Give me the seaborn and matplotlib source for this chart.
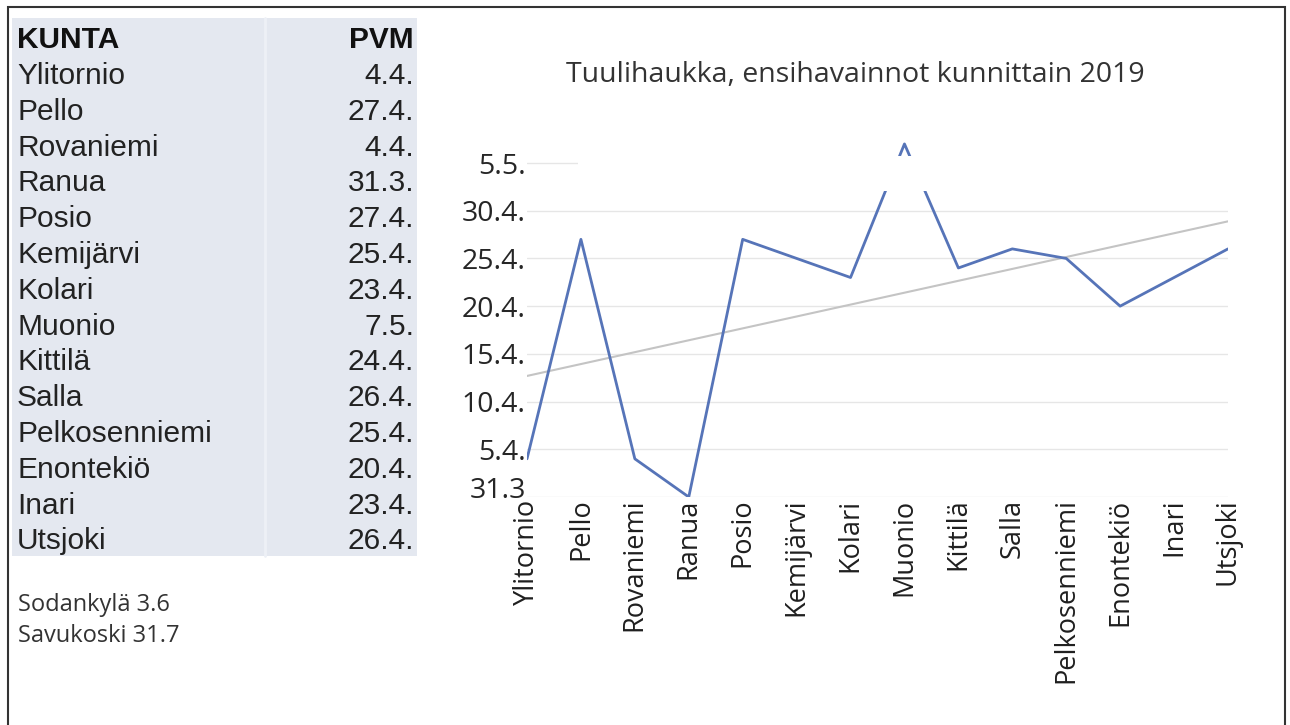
import numpy as np
import pandas as pd
import seaborn as sns
import matplotlib.pyplot as plt
import matplotlib.transforms as mtransforms
from matplotlib.patches import Rectangle

kunnat = ["Ylitornio", "Pello", "Rovaniemi", "Ranua", "Posio", "Kemijärvi", "Kolari",
          "Muonio", "Kittilä", "Salla", "Pelkosenniemi", "Enontekiö", "Inari", "Utsjoki"]
pvm = ["4.4.", "27.4.", "4.4.", "31.3.", "27.4.", "25.4.", "23.4.",
       "7.5.", "24.4.", "26.4.", "25.4.", "20.4.", "23.4.", "26.4."]
lisat = ["Sodankylä 3.6", "Savukoski 31.7"]
ytick_labels = ["31.3", "5.4.", "10.4.", "15.4.", "20.4.", "25.4.", "30.4.", "5.5."]
otsikko = "Tuulihaukka, ensihavainnot kunnittain 2019"

# päivät 31.3. jälkeen
alku = pd.Timestamp(2019, 3, 31)
paivat = [(pd.Timestamp(2019, int(p.split(".")[1]), int(p.split(".")[0])) - alku).days for p in pvm]
df = pd.DataFrame({"pos": np.arange(len(kunnat)), "kunta": kunnat, "paiva": paivat})

sns.set_theme(style="white")
plt.rcParams["font.family"] = ["Open Sans", "DejaVu Sans"]

W, H = 1290, 725
fig = plt.figure(figsize=(W / 100, H / 100), dpi=100)


def fx(px):
    return px / W


def fy(py):
    return 1 - py / H


# kehys
fig.add_artist(Rectangle((fx(8), -0.02), fx(1285 - 8), fy(7) + 0.02, transform=fig.transFigure,
                         fill=False, edgecolor="#333333", lw=1.5))

# taulukko
fig.add_artist(Rectangle((fx(12), fy(556)), fx(417 - 12), (556 - 18) / H, transform=fig.transFigure,
                         facecolor="#e4e8f0", edgecolor="none"))
fig.add_artist(plt.Line2D([fx(265), fx(265)], [fy(556), fy(18)], transform=fig.transFigure,
                          color="#edf0f6", lw=2))
tfont = dict(family="Liberation Sans", fontsize=21.5, va="center")
fig.text(fx(17), fy(40), "KUNTA", fontweight="bold", color="#111111", ha="left", **tfont)
fig.text(fx(414), fy(40), "PVM", fontweight="bold", color="#111111", ha="right", **tfont)
for i, (k, p) in enumerate(zip(kunnat, pvm)):
    y = 76 + i * 35.8
    fig.text(fx(17), fy(y), k, color="#222222", ha="left", **tfont)
    fig.text(fx(414), fy(y), p, color="#222222", ha="right", **tfont)

for i, t in enumerate(lisat):
    fig.text(fx(18), fy(605 + i * 31), t, fontsize=17, color="#333333", va="center", ha="left")

# kaavio
x0, x1 = 527, 1228
ybot = 497
px_per_day = (497 - 163) / 35
ax = fig.add_axes([fx(x0), 1 - ybot / H, (x1 - x0) / W, 40 * px_per_day / H])

sns.lineplot(data=df, x="pos", y="paiva", ax=ax, color="#5674b8", lw=2, zorder=3)
sns.regplot(data=df, x="pos", y="paiva", ax=ax, scatter=False, ci=None,
            line_kws={"color": "#c4c4c4", "lw": 1.5, "zorder": 2})

ax.set_xlim(0, len(kunnat) - 1)
ax.set_ylim(0, 40)
ax.set_yticks(np.arange(0, 36, 5))
ax.set_yticklabels(ytick_labels, fontsize=20.5, color="#262626")
ax.set_xticks(df["pos"])
ax.set_xticklabels(kunnat, rotation=90, fontsize=19.5, color="#1f1f1f")
ax.tick_params(axis="both", length=0, pad=1)
ax.set_xlabel("")
ax.set_ylabel("")
# 31.3 hieman ylemmäs kuten alkuperäisessä
lab0 = ax.get_yticklabels()[0]
lab0.set_transform(lab0.get_transform() + mtransforms.ScaledTranslation(0, 9 / 100, fig.dpi_scale_trans))
for yv in np.arange(0, 36, 5):
    ax.axhline(yv, color="#e6e6e6", lw=1, zorder=1)
for s in ax.spines.values():
    s.set_visible(False)
ax.patch.set_alpha(0)

fig.text(fx(855), fy(75), otsikko, fontsize=20.5, color="#333333", ha="center", va="center")

# valkoinen peittoalue kuten alkuperäisessä
fig.add_artist(Rectangle((fx(578), fy(191)), fx(1235 - 578), (191 - 156) / H,
                         transform=fig.transFigure, facecolor="white", edgecolor="none", zorder=10))

fig.savefig("out.png", dpi=100)
